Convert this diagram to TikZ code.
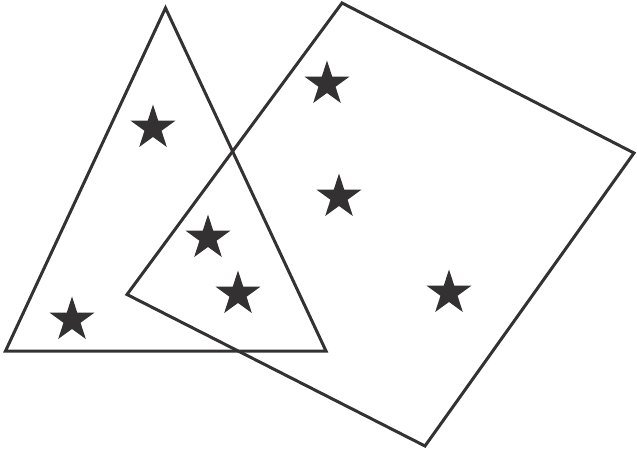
\documentclass[tikz,border=0pt]{standalone}
\usetikzlibrary{shapes.geometric}
\definecolor{ink}{HTML}{333132}
\begin{document}
\begin{tikzpicture}[x=1pt,y=-1pt,
  outline/.style={draw=ink,line width=3pt,line join=miter},
  starmark/.style={star,star points=5,star point ratio=2.618,fill=ink,draw=none,inner sep=0pt,minimum size=47pt}]
\useasboundingbox (0,0) rectangle (637,454);
\coordinate (t1) at (165.5,8);
\coordinate (t2) at (5.5,351);
\coordinate (t3) at (326,351);
\coordinate (q1) at (342,3);
\coordinate (q2) at (634,153);
\coordinate (q3) at (425,446);
\coordinate (q4) at (127,294.5);
\draw[outline] (t1) -- (t2) -- (t3) -- cycle;
\draw[outline] (q1) -- (q2) -- (q3) -- (q4) -- cycle;
\node[starmark] (s1) at (153,128) {};
\node[starmark] (s2) at (327,84) {};
\node[starmark] (s3) at (339,197) {};
\node[starmark] (s4) at (208,238) {};
\node[starmark] (s5) at (238,294) {};
\node[starmark] (s6) at (72,320) {};
\node[starmark] (s7) at (449,293) {};
\end{tikzpicture}
\end{document}
